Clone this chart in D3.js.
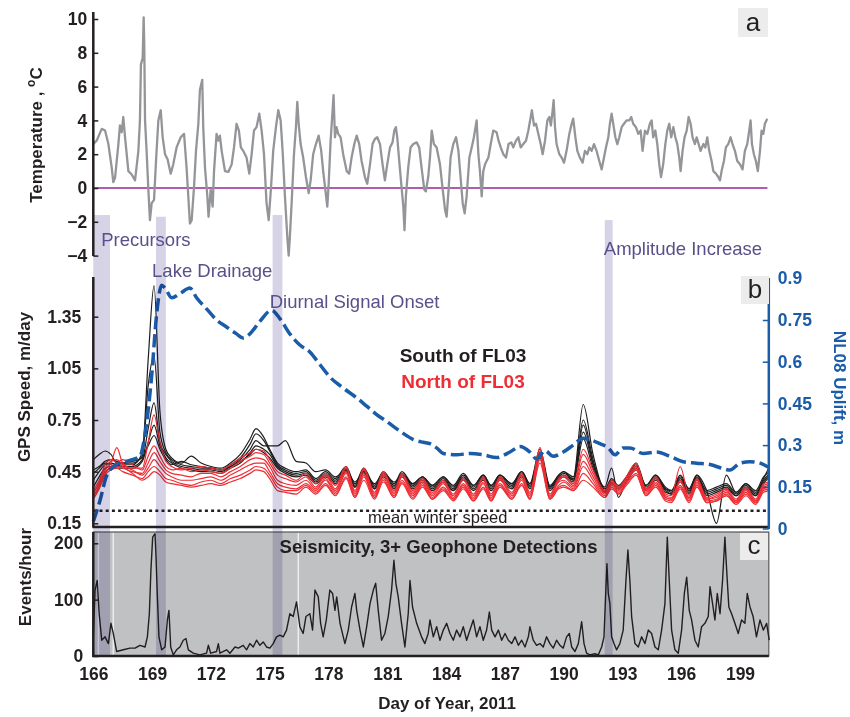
<!DOCTYPE html>
<html>
<head>
<meta charset="utf-8">
<style>
    body { margin: 0; background: #fff; }
    svg { display: block; font-family: "Liberation Sans", Arial, Helvetica, sans-serif; }
    .tick text { font-size: 17.5px; font-weight: bold; fill: #231f20; }
    .tick line { stroke: #231f20; stroke-width: 1.5; }
    .domain { display: none; }
    .right .tick text { fill: #1b5ca9; }
    .right .tick line { stroke: #1b5ca9; }
    .axis-title { font-size: 17px; font-weight: bold; fill: #231f20; }
    .event-label { font-size: 18.5px; fill: #57508a; }
    .panel-tag { font-size: 26px; fill: #231f20; }
</style>
</head>
<body>
<svg width="850" height="717"></svg>

<script src="https://d3js.org/d3.v7.min.js"></script>
<script>
    // ---- data ----
    const dayTicks = [166, 169, 172, 175, 178, 181, 184, 187, 190, 193, 196, 199]
    const tempTicks = [-4, -2, 0, 2, 4, 6, 8, 10]
    const speedTicks = [0.15, 0.45, 0.75, 1.05, 1.35]
    const upliftTicks = [0, 0.15, 0.3, 0.45, 0.6, 0.75, 0.9]
    const eventTicks = [0, 100, 200]

    // panel a: air temperature, deg C
    const tempDays = [
        166.00,166.17,166.43,166.60,166.77,166.94,167.02,167.11,167.28,167.36,
        167.45,167.53,167.62,167.79,167.96,168.13,168.30,168.38,168.43,168.52,
        168.57,168.60,168.64,168.72,168.81,168.89,168.98,169.10,169.20,169.32,
        169.44,169.54,169.66,169.79,169.95,170.08,170.25,170.46,170.63,170.76,
        170.93,171.02,171.14,171.24,171.36,171.44,171.56,171.61,171.70,171.82,
        171.88,171.99,172.09,172.16,172.29,172.38,172.46,172.55,172.72,172.89,
        173.06,173.18,173.31,173.43,173.53,173.65,173.82,173.96,174.08,174.20,
        174.33,174.47,174.59,174.71,174.84,174.95,175.07,175.18,175.32,175.44,
        175.56,175.66,175.78,175.90,175.97,176.03,176.12,176.24,176.34,176.41,
        176.48,176.58,176.71,176.85,176.99,177.09,177.22,177.36,177.50,177.63,
        177.73,177.84,177.94,178.01,178.11,178.21,178.26,178.33,178.41,178.50,
        178.62,178.75,178.93,179.06,179.18,179.32,179.44,179.57,179.69,179.86,
        179.98,180.12,180.25,180.37,180.49,180.63,180.76,180.88,181.00,181.14,
        181.27,181.36,181.44,181.51,181.61,181.73,181.82,181.88,181.95,182.07,
        182.19,182.33,182.50,182.63,182.75,182.89,182.97,183.09,
        183.18,183.27,183.38,183.52,183.69,183.83,183.95,184.03,184.13,184.23,
        184.37,184.51,184.63,184.74,184.85,184.95,185.05,185.19,185.31,185.42,
        185.56,185.65,185.73,185.82,185.90,185.99,186.16,186.28,186.41,186.58,
        186.68,186.79,186.92,187.06,187.19,187.33,187.43,187.57,187.69,187.81,
        187.94,188.08,188.20,188.32,188.38,188.49,188.59,188.71,188.83,188.93,
        189.05,189.17,189.27,189.35,189.44,189.49,189.56,189.64,189.78,189.90,
        190.02,190.15,190.29,190.41,190.49,190.60,190.70,190.83,190.97,191.09,
        191.21,191.31,191.43,191.55,191.68,191.82,191.94,192.06,192.16,192.28,
        192.36,192.45,192.53,192.64,192.74,192.84,192.96,193.08,193.21,193.35,
        193.45,193.55,193.69,193.81,193.93,194.03,194.15,194.27,194.40,194.49,
        194.57,194.68,194.78,194.88,194.97,195.08,195.19,195.29,195.39,195.49,
        195.60,195.70,195.80,195.90,195.97,196.07,196.17,196.28,196.38,196.48,
        196.58,196.70,196.79,196.89,196.99,197.13,197.23,197.33,197.43,197.55,
        197.64,197.77,197.89,197.98,198.06,198.18,198.28,198.40,198.52,198.62,
        198.74,198.86,199.00,199.13,199.25,199.37,199.47,199.54,199.61,199.71,
        199.81,199.91,200.02,200.10,200.19,200.27,200.39
    ]
    const tempValues = [
        2.6,2.8,3.5,3.4,2.6,1.2,0.35,0.6,2.6,3.7,
        3.3,4.2,3.0,1.0,0.8,0.45,2.2,4.0,7.3,7.7,
        10.1,8.5,4.0,2.2,-0.1,-1.9,-0.9,-0.7,1.6,4.0,
        4.6,3.0,2.0,1.7,0.85,1.4,2.4,3.0,3.2,1.2,
        -2.1,-1.9,0.05,2.2,3.8,5.8,6.4,3.6,1.2,-0.5,
        -1.7,-0.1,-1.1,1.0,3.2,2.8,3.1,2.2,1.0,0.95,
        1.4,2.4,3.8,3.4,2.4,2.2,1.8,0.85,2.0,3.4,
        3.6,4.4,3.4,2.0,-0.9,-1.9,0.05,2.2,3.6,4.6,
        4.0,2.2,-0.5,-2.9,-4.0,-2.9,-0.9,2.0,3.6,5.1,
        3.8,2.6,1.8,0.65,-0.3,0.45,2.0,2.6,3.1,2.2,
        1.0,-0.1,-1.1,0.25,2.8,4.6,5.5,3.0,3.6,3.2,
        3.0,2.0,1.0,0.85,1.8,2.6,3.1,2.6,1.6,0.65,
        0.25,1.4,2.6,2.9,3.0,2.6,1.4,0.45,1.4,2.4,
        2.7,3.4,3.6,3.0,1.6,0.05,-1.1,-2.5,-0.5,1.2,
        2.4,2.6,2.7,2.4,1.2,-0.1,-0.2,0.65,
        1.8,3.4,2.6,2.4,1.4,-0.1,-1.3,-1.7,-0.1,1.8,
        2.6,3.0,2.2,0.65,-0.9,-1.5,-0.5,1.8,2.4,3.0,
        4.0,2.0,1.0,-0.5,1.0,1.4,1.8,2.6,3.4,3.3,
        2.8,2.4,2.0,1.8,2.6,2.7,2.4,2.8,3.0,2.4,
        2.6,2.8,3.4,4.2,4.6,3.7,3.8,3.2,2.6,2.0,
        2.8,4.0,4.2,3.7,4.6,5.2,3.6,2.6,2.0,1.8,
        1.5,2.2,3.2,3.8,4.1,3.0,2.2,1.8,1.5,2.2,
        2.0,2.4,2.2,2.6,2.2,1.6,1.1,1.8,2.4,3.0,
        3.8,4.4,3.8,3.0,2.6,3.0,3.6,3.8,4.0,4.0,
        4.2,3.8,3.6,3.2,3.4,2.2,3.4,3.2,3.8,4.0,
        3.0,3.4,2.6,1.4,0.65,1.4,2.6,3.4,3.8,3.0,
        3.6,3.0,2.6,1.8,1.0,2.2,3.0,3.4,4.2,3.8,
        3.0,2.6,3.0,2.6,2.2,2.6,2.4,3.0,2.2,1.6,
        1.0,0.85,0.65,0.45,1.0,1.6,2.4,2.6,3.0,2.6,
        2.2,1.6,1.4,1.1,2.2,2.6,3.4,4.0,2.6,2.0,
        1.6,1.0,2.2,3.4,3.2,3.8,4.1
    ]

    // panel b: GPS speed (m/day), one row per station
    const gpsDays = [
        166.0,166.3,166.6,166.9,167.2,167.5,168.0,168.5,168.8,169.1,
        169.4,169.7,170.0,170.5,171.0,171.5,172.0,172.5,173.0,173.5,
        174.0,174.3,174.7,175.0,175.4,175.8,176.35,176.85,177.35,177.85,
        178.35,178.9,179.35,179.8,180.35,180.8,181.35,181.75,182.3,182.8,
        183.3,183.86,184.37,184.88,185.4,185.9,186.3,186.75,187.35,187.86,
        188.28,188.79,189.3,189.75,190.0,190.5,191.0,191.5,192.1,192.45,
        192.8,193.2,193.7,194.2,194.7,195.2,195.5,195.95,196.4,196.8,
        197.3,197.8,198.3,198.8,199.3,199.8,200.2,200.5
    ]
    const southStations = [
        [0.44,0.47,0.50,0.49,0.48,0.49,0.49,0.56,1.10,1.53, 0.80,0.58,0.53,0.50,0.54,0.50,0.48,0.47,0.50,0.55,
         0.64,0.70,0.65,0.58,0.50,0.47,0.45,0.46,0.41,0.45, 0.41,0.48,0.38,0.47,0.37,0.45,0.38,0.45,0.38,0.42,
         0.37,0.42,0.36,0.43,0.37,0.43,0.37,0.43,0.38,0.45, 0.38,0.58,0.37,0.43,0.45,0.42,0.84,0.55,0.35,0.41,
         0.37,0.42,0.50,0.37,0.43,0.36,0.34,0.42,0.35,0.43, 0.34,0.36,0.38,0.33,0.38,0.33,0.41,0.48],
        [0.52,0.55,0.57,0.55,0.50,0.50,0.50,0.54,0.95,1.12, 0.68,0.56,0.52,0.49,0.48,0.47,0.47,0.46,0.49,0.53,
         0.61,0.67,0.63,0.57,0.49,0.46,0.44,0.45,0.40,0.44, 0.40,0.47,0.37,0.46,0.36,0.44,0.37,0.44,0.37,0.41,
         0.36,0.41,0.35,0.42,0.36,0.42,0.36,0.42,0.37,0.44, 0.37,0.56,0.36,0.42,0.44,0.41,0.75,0.52,0.34,0.40,
         0.36,0.41,0.49,0.36,0.42,0.35,0.33,0.41,0.34,0.42, 0.33,0.35,0.37,0.32,0.37,0.32,0.40,0.44],
        [0.40,0.45,0.49,0.50,0.49,0.48,0.48,0.52,0.70,0.85, 0.62,0.55,0.51,0.48,0.47,0.46,0.46,0.45,0.48,0.52,
         0.58,0.63,0.60,0.60,0.60,0.63,0.51,0.50,0.45,0.46, 0.42,0.46,0.39,0.45,0.38,0.44,0.39,0.43,0.38,0.42,
         0.37,0.42,0.37,0.44,0.37,0.43,0.37,0.43,0.38,0.45, 0.38,0.55,0.36,0.43,0.45,0.40,0.72,0.50,0.36,0.47,
         0.30,0.40,0.48,0.37,0.43,0.35,0.34,0.43,0.35,0.43, 0.34,0.15,0.43,0.33,0.38,0.34,0.42,0.45],
        [0.36,0.42,0.47,0.48,0.47,0.47,0.47,0.51,0.62,0.72, 0.60,0.53,0.50,0.47,0.46,0.45,0.45,0.44,0.47,0.50,
         0.56,0.60,0.58,0.55,0.48,0.45,0.43,0.44,0.39,0.43, 0.39,0.46,0.36,0.45,0.35,0.43,0.36,0.43,0.36,0.40,
         0.35,0.40,0.34,0.41,0.35,0.41,0.35,0.41,0.36,0.43, 0.36,0.55,0.35,0.41,0.43,0.40,0.68,0.49,0.33,0.39,
         0.35,0.40,0.47,0.35,0.41,0.34,0.32,0.40,0.33,0.41, 0.32,0.34,0.36,0.31,0.36,0.31,0.39,0.43],
        [0.46,0.48,0.51,0.52,0.51,0.50,0.51,0.53,0.60,0.66, 0.58,0.52,0.49,0.51,0.49,0.48,0.47,0.46,0.48,0.51,
         0.55,0.58,0.56,0.53,0.47,0.44,0.42,0.43,0.38,0.42, 0.38,0.45,0.36,0.44,0.35,0.42,0.35,0.42,0.35,0.39,
         0.34,0.39,0.34,0.40,0.34,0.40,0.34,0.40,0.35,0.42, 0.35,0.53,0.34,0.40,0.42,0.39,0.64,0.47,0.33,0.38,
         0.35,0.39,0.46,0.34,0.40,0.33,0.32,0.39,0.32,0.40, 0.31,0.33,0.35,0.31,0.35,0.31,0.38,0.42]
    ]
    const northStations = [
        [0.33,0.38,0.46,0.50,0.59,0.50,0.47,0.47,0.62,0.78, 0.62,0.51,0.48,0.46,0.47,0.48,0.47,0.46,0.49,0.53,
         0.56,0.58,0.57,0.52,0.45,0.43,0.40,0.44,0.38,0.44, 0.37,0.48,0.34,0.47,0.33,0.45,0.34,0.44,0.34,0.41,
         0.33,0.40,0.32,0.41,0.32,0.42,0.32,0.42,0.33,0.44, 0.33,0.59,0.32,0.41,0.43,0.38,0.58,0.46,0.34,0.40,
         0.36,0.42,0.50,0.35,0.42,0.32,0.31,0.48,0.31,0.41, 0.30,0.32,0.35,0.29,0.36,0.29,0.38,0.39],
        [0.31,0.36,0.44,0.48,0.50,0.52,0.49,0.46,0.54,0.60, 0.54,0.48,0.46,0.47,0.45,0.46,0.45,0.44,0.47,0.51,
         0.54,0.56,0.55,0.50,0.43,0.41,0.39,0.42,0.36,0.43, 0.35,0.47,0.33,0.46,0.32,0.44,0.33,0.43,0.33,0.40,
         0.32,0.39,0.31,0.40,0.31,0.41,0.31,0.41,0.32,0.43, 0.32,0.57,0.31,0.40,0.42,0.37,0.55,0.44,0.33,0.39,
         0.35,0.41,0.48,0.34,0.41,0.31,0.30,0.40,0.30,0.40, 0.29,0.31,0.34,0.28,0.35,0.28,0.37,0.38],
        [0.30,0.37,0.45,0.47,0.48,0.47,0.45,0.44,0.50,0.56, 0.51,0.46,0.44,0.43,0.42,0.44,0.44,0.42,0.45,0.48,
         0.52,0.53,0.52,0.48,0.40,0.38,0.37,0.40,0.35,0.41, 0.34,0.45,0.32,0.44,0.31,0.43,0.32,0.42,0.32,0.39,
         0.31,0.38,0.30,0.38,0.30,0.39,0.30,0.40,0.31,0.41, 0.31,0.55,0.30,0.39,0.40,0.36,0.51,0.42,0.32,0.38,
         0.34,0.40,0.47,0.33,0.39,0.30,0.29,0.39,0.30,0.39, 0.29,0.30,0.33,0.28,0.34,0.28,0.36,0.37],
        [0.34,0.40,0.47,0.51,0.52,0.49,0.46,0.43,0.47,0.52, 0.48,0.44,0.42,0.40,0.40,0.41,0.42,0.40,0.43,0.46,
         0.49,0.50,0.50,0.45,0.38,0.36,0.35,0.38,0.34,0.40, 0.33,0.44,0.31,0.43,0.30,0.41,0.31,0.40,0.31,0.38,
         0.30,0.36,0.29,0.37,0.29,0.38,0.29,0.38,0.30,0.40, 0.30,0.54,0.30,0.37,0.39,0.35,0.48,0.40,0.31,0.37,
         0.33,0.39,0.46,0.32,0.38,0.30,0.29,0.37,0.29,0.38, 0.28,0.29,0.32,0.27,0.33,0.27,0.35,0.36],
        [0.29,0.35,0.43,0.46,0.47,0.45,0.43,0.41,0.45,0.48, 0.45,0.41,0.40,0.38,0.37,0.39,0.40,0.38,0.41,0.43,
         0.46,0.48,0.47,0.43,0.36,0.34,0.34,0.37,0.33,0.38, 0.32,0.42,0.30,0.42,0.30,0.40,0.30,0.39,0.30,0.37,
         0.29,0.35,0.29,0.36,0.28,0.36,0.28,0.37,0.29,0.38, 0.29,0.52,0.29,0.36,0.37,0.34,0.44,0.38,0.30,0.36,
         0.32,0.38,0.44,0.31,0.37,0.29,0.28,0.36,0.28,0.37, 0.27,0.28,0.31,0.27,0.32,0.27,0.34,0.35],
        [0.32,0.39,0.49,0.52,0.50,0.48,0.44,0.40,0.42,0.45, 0.43,0.39,0.38,0.37,0.36,0.37,0.38,0.37,0.39,0.41,
         0.44,0.46,0.45,0.41,0.34,0.33,0.32,0.36,0.32,0.37, 0.31,0.41,0.30,0.40,0.29,0.39,0.30,0.38,0.29,0.36,
         0.29,0.34,0.28,0.35,0.28,0.35,0.28,0.36,0.29,0.37, 0.29,0.50,0.29,0.35,0.36,0.34,0.40,0.36,0.30,0.35,
         0.32,0.37,0.43,0.31,0.36,0.28,0.27,0.35,0.27,0.36, 0.27,0.28,0.31,0.26,0.31,0.26,0.33,0.34]
    ]
    const meanWinterSpeed = 0.223

    // panel b: NL08 uplift (m), right axis
    const upliftDays = [
        166.0,166.34,166.68,167.19,167.87,168.38,168.64,168.98,169.23,169.49,
        169.66,170.0,170.42,170.93,171.27,171.78,172.29,172.8,173.31,173.65,
        173.99,174.5,175.1,175.52,176.03,176.54,177.05,177.56,178.07,178.76,
        179.44,179.95,180.46,180.97,181.65,182.33,182.84,183.18,183.52,183.86,
        184.54,185.22,185.9,186.58,187.26,187.77,188.28,188.62,189.05,189.47,
        189.98,190.49,191.0,191.34,191.85,192.28,192.62,193.04,193.38,194.06,
        194.74,195.42,196.1,196.79,197.47,198.15,198.49,199.0,199.51,200.02,200.45
    ]
    const upliftValues = [
        0.025,0.10,0.19,0.23,0.245,0.26,0.34,0.55,0.77,0.875,
        0.865,0.83,0.845,0.865,0.83,0.79,0.75,0.725,0.70,0.685,
        0.70,0.745,0.785,0.755,0.70,0.66,0.635,0.59,0.545,0.505,
        0.47,0.44,0.41,0.385,0.35,0.32,0.31,0.305,0.29,0.27,
        0.265,0.27,0.265,0.255,0.275,0.295,0.275,0.25,0.28,0.26,
        0.275,0.30,0.325,0.32,0.305,0.29,0.265,0.29,0.29,0.27,
        0.275,0.26,0.24,0.235,0.23,0.215,0.21,0.235,0.24,0.235,0.22
    ]

    // panel c: seismicity, events/hour
    const seisDays = [
        166.0,166.09,166.2,166.3,166.43,166.6,166.77,166.9,167.02,167.19,
        167.53,167.87,168.13,168.38,168.64,168.76,168.86,168.94,169.03,169.15,
        169.2,169.27,169.35,169.49,169.66,169.78,169.86,169.95,170.08,170.25,
        170.42,170.59,170.73,170.85,171.1,171.44,171.78,171.87,171.99,172.29,
        172.38,172.46,172.8,172.97,173.23,173.4,173.65,173.82,173.99,174.16,
        174.33,174.5,174.67,174.84,175.01,175.18,175.35,175.52,175.69,175.86,
        176.03,176.2,176.37,176.54,176.71,176.85,177.05,177.19,177.31,177.48,
        177.6,177.73,177.89,178.07,178.21,178.33,178.42,178.59,178.84,179.01,
        179.18,179.35,179.44,179.61,179.78,179.95,180.12,180.29,180.41,180.54,
        180.71,180.88,181.05,181.22,181.34,181.44,181.56,181.73,181.9,182.07,
        182.16,182.29,182.5,182.75,182.92,183.09,
        183.18,183.35,183.52,183.69,183.86,184.03,184.2,184.37,184.54,184.71,
        184.88,185.05,185.22,185.39,185.56,185.73,185.9,186.07,186.21,186.33,
        186.5,186.67,186.84,187.01,187.18,187.35,187.52,187.69,187.86,188.03,
        188.2,188.28,188.45,188.62,188.79,188.96,189.13,189.3,189.47,189.64,
        189.81,189.98,190.15,190.29,190.41,190.58,190.75,190.92,191.04,191.17,
        191.34,191.6,191.77,191.94,192.06,192.14,192.21,192.28,192.36,192.45,
        192.57,192.7,192.87,193.04,193.18,193.28,193.38,193.47,193.64,193.81,
        193.98,194.15,194.32,194.49,194.66,194.83,195.0,195.17,195.29,195.39,
        195.51,195.68,195.85,196.02,196.16,196.28,196.41,196.53,196.7,196.87,
        197.04,197.21,197.38,197.47,197.6,197.72,197.84,197.98,198.11,198.23,
        198.32,198.43,198.57,198.74,198.91,199.08,199.25,199.37,199.51,199.67,
        199.84,200.02,200.19,200.36,200.49
    ]
    const seisValues = [
        34,117,134,75,28,34,22,58,40,8,
        11,14,14,19,16,34,75,152,211,217,
        176,105,34,11,16,64,81,16,2,11,
        16,28,31,11,5,2,5,19,5,8,
        22,5,11,5,16,14,19,11,22,16,
        28,19,25,16,14,22,34,37,34,46,
        75,70,96,52,40,70,75,46,117,105,
        58,34,64,117,111,81,105,58,22,46,
        87,111,81,46,16,52,93,117,129,81,
        28,40,70,117,170,129,105,58,16,75,
        134,87,58,34,22,40,
        64,34,52,28,46,58,40,28,46,34,
        52,28,46,64,34,52,28,46,78,46,
        34,46,28,40,28,22,34,19,28,16,
        34,52,28,19,22,16,34,22,14,28,
        19,14,34,40,16,8,22,61,22,5,
        2,4,2,16,34,105,164,111,93,34,
        22,11,22,46,134,188,134,70,22,16,
        34,22,46,40,16,11,46,93,211,134,
        46,11,5,46,111,140,81,64,28,16,
        52,58,70,123,93,64,111,75,134,211,
        152,87,75,58,40,64,58,111,87,70,
        34,64,46,58,28
    ]
    const gapDays = [166.26, 167.02, 176.46]

    // shaded events
    const bandLabels = ["Precursors", "Lake Drainage", "Diurnal Signal Onset", "Amplitude Increase"]
    const bandStarts = [166.0, 169.2, 175.15, 192.1]
    const bandEnds = [166.85, 169.7, 175.65, 192.5]
    const bandTops = [-1.6, -1.7, -1.6, -1.9]   // in temperature units (panel a scale)
    const labelDays = [166.4, 169.0, 175.0, 192.05]
    const labelY = [246, 277, 308, 255]

    // ---- layout ----
    let svg = d3.select("svg")
    let dayMax = 200.47

    let x = d3.scaleLinear().domain([166, 199]).range([93.3, 740])
    let yTemp = d3.scaleLinear().domain([-4, 10]).range([255.6, 19])
    let ySpeed = d3.scaleLinear().domain([0.15, 1.35]).range([523.3, 316.7])
    let yUplift = d3.scaleLinear().domain([0, 0.9]).range([528.5, 278.3])
    let yEvents = d3.scaleLinear().domain([0, 200]).range([656, 543.3])

    let left = x(166), right = x(dayMax)
    let ink = "#231f20"
    let blue = "#1b5ca9"

    function pathFor(days, values, yScale, curve) {
        return d3.line()
            .x((d, i) => x(days[i]))
            .y(d => yScale(d))
            .curve(curve || d3.curveLinear)(values)
    }

    // ---- panel c background ----
    svg.append("rect")
        .attr("x", left).attr("y", 532)
        .attr("width", right - left).attr("height", 656 - 532)
        .attr("fill", "#c0c1c3")
        .attr("stroke", "#58595b").attr("stroke-width", 1.2)

    svg.append("g").selectAll("line")
        .data(gapDays)
        .join("line")
        .attr("x1", d => x(d)).attr("x2", d => x(d))
        .attr("y1", 533).attr("y2", 655)
        .attr("stroke", "#fff").attr("stroke-opacity", 0.7).attr("stroke-width", 1.5)

    // ---- panel a: temperature ----
    svg.append("line")
        .attr("x1", left).attr("x2", x(200.4))
        .attr("y1", yTemp(0)).attr("y2", yTemp(0))
        .attr("stroke", "#b35bae").attr("stroke-width", 2)

    svg.append("path")
        .attr("d", pathFor(tempDays, tempValues, yTemp))
        .attr("fill", "none")
        .attr("stroke", "#939598")
        .attr("stroke-width", 2.3)
        .attr("stroke-linejoin", "round")

    // ---- panel b: GPS speeds + uplift ----
    svg.append("line")
        .attr("x1", left).attr("x2", right)
        .attr("y1", ySpeed(meanWinterSpeed)).attr("y2", ySpeed(meanWinterSpeed))
        .attr("stroke", ink).attr("stroke-width", 2.5)
        .attr("stroke-dasharray", "3,3.2")

    svg.append("g").selectAll("path")
        .data(southStations)
        .join("path")
        .attr("d", d => pathFor(gpsDays, d, ySpeed, d3.curveMonotoneX))
        .attr("fill", "none")
        .attr("stroke", "#1e1e1e")
        .attr("stroke-width", 1.2)

    svg.append("g").selectAll("path")
        .data(northStations)
        .join("path")
        .attr("d", d => pathFor(gpsDays, d, ySpeed, d3.curveMonotoneX))
        .attr("fill", "none")
        .attr("stroke", "#ee2d34")
        .attr("stroke-width", 1.2)

    svg.append("path")
        .attr("d", pathFor(upliftDays, upliftValues, yUplift, d3.curveMonotoneX))
        .attr("fill", "none")
        .attr("stroke", blue)
        .attr("stroke-width", 3.5)
        .attr("stroke-dasharray", "13,5")

    // ---- panel c: seismicity ----
    svg.append("path")
        .attr("d", pathFor(seisDays, seisValues, yEvents))
        .attr("fill", "none")
        .attr("stroke", ink)
        .attr("stroke-width", 1.4)
        .attr("stroke-linejoin", "round")

    // ---- event bands (drawn over everything) ----
    svg.append("g").selectAll("rect")
        .data(bandStarts)
        .join("rect")
        .attr("x", d => x(d))
        .attr("width", (d, i) => x(bandEnds[i]) - x(d))
        .attr("y", (d, i) => yTemp(bandTops[i]))
        .attr("height", (d, i) => 656 - yTemp(bandTops[i]))
        .attr("fill", "#d6d3e6")
        .style("mix-blend-mode", "multiply")

    svg.append("g").selectAll("text")
        .data(bandLabels)
        .join("text")
        .attr("class", "event-label")
        .attr("x", (d, i) => x(labelDays[i]))
        .attr("y", (d, i) => labelY[i])
        .text(d => d)

    // ---- axes ----
    svg.append("g")
        .attr("transform", `translate(${left},0)`)
        .call(d3.axisLeft(yTemp).tickValues(tempTicks).tickSizeInner(-5).tickSizeOuter(0).tickPadding(6))

    svg.append("g")
        .attr("transform", `translate(${left},0)`)
        .call(d3.axisLeft(ySpeed).tickValues(speedTicks).tickFormat(d3.format(".2f"))
            .tickSizeInner(-5).tickSizeOuter(0).tickPadding(12))

    svg.append("g")
        .attr("class", "right")
        .attr("transform", `translate(${right},0)`)
        .call(d3.axisRight(yUplift).tickValues(upliftTicks).tickFormat(d => String(+d.toFixed(2)))
            .tickSizeInner(-6).tickSizeOuter(0).tickPadding(9))

    svg.append("g")
        .attr("transform", `translate(${left},0)`)
        .call(d3.axisLeft(yEvents).tickValues(eventTicks).tickSizeInner(-5).tickSizeOuter(0).tickPadding(10))

    svg.append("g")
        .attr("transform", "translate(0,656)")
        .call(d3.axisBottom(x).tickValues(dayTicks).tickFormat(d3.format("d")).tickSize(0).tickPadding(12))

    // axis lines
    let axisLines = [
        [left, 12, left, 256, ink],
        [left, 277, left, 527, ink],
        [left - 1, 527, right + 1, 527, ink],
        [right, 278, right, 529, blue],
        [left, 532, left, 657, ink],
        [left - 1, 656, right, 656, ink]
    ]
    svg.append("g").selectAll("line")
        .data(axisLines)
        .join("line")
        .attr("x1", d => d[0]).attr("y1", d => d[1])
        .attr("x2", d => d[2]).attr("y2", d => d[3])
        .attr("stroke", d => d[4])
        .attr("stroke-width", 2.5)

    // ---- titles ----
    let tTemp = svg.append("text")
        .attr("class", "axis-title")
        .attr("transform", "translate(42,135) rotate(-90)")
        .attr("text-anchor", "middle")
    tTemp.append("tspan").text("Temperature , ")
    tTemp.append("tspan").attr("dy", -7).style("font-size", "12px").text("o")
    tTemp.append("tspan").attr("dy", 7).text("C")

    svg.append("text")
        .attr("class", "axis-title")
        .attr("transform", "translate(30,387) rotate(-90)")
        .attr("text-anchor", "middle")
        .text("GPS Speed, m/day")

    svg.append("text")
        .attr("class", "axis-title")
        .attr("transform", "translate(31,577) rotate(-90)")
        .attr("text-anchor", "middle")
        .text("Events/hour")

    svg.append("text")
        .attr("class", "axis-title")
        .attr("transform", "translate(834,388) rotate(90)")
        .attr("text-anchor", "middle")
        .style("fill", blue)
        .text("NL08 Uplift, m")

    svg.append("text")
        .attr("class", "axis-title")
        .attr("x", 447).attr("y", 709)
        .attr("text-anchor", "middle")
        .text("Day of Year, 2011")

    svg.append("text")
        .attr("x", 463).attr("y", 362)
        .attr("text-anchor", "middle")
        .style("font-size", "19px").style("font-weight", "bold").style("fill", ink)
        .text("South of FL03")

    svg.append("text")
        .attr("x", 463).attr("y", 388)
        .attr("text-anchor", "middle")
        .style("font-size", "19px").style("font-weight", "bold").style("fill", "#ee2d34")
        .text("North of FL03")

    svg.append("text")
        .attr("x", 368).attr("y", 523)
        .style("font-size", "16.5px").style("fill", ink)
        .text("mean winter speed")

    svg.append("text")
        .attr("x", 438.5).attr("y", 553)
        .attr("text-anchor", "middle")
        .style("font-size", "18.5px").style("font-weight", "bold").style("fill", ink)
        .text("Seismicity, 3+ Geophone Detections")

    // panel tags
    let tags = [
        { t: "a", x: 738, y: 8, w: 30, h: 29 },
        { t: "b", x: 741, y: 276, w: 28, h: 28 },
        { t: "c", x: 740, y: 533, w: 28, h: 27 }
    ]
    let tg = svg.append("g").selectAll("g")
        .data(tags)
        .join("g")
    tg.append("rect")
        .attr("x", d => d.x).attr("y", d => d.y)
        .attr("width", d => d.w).attr("height", d => d.h)
        .attr("fill", "#ececec")
    tg.append("text")
        .attr("class", "panel-tag")
        .attr("x", d => d.x + d.w / 2)
        .attr("y", d => d.y + d.h - 6)
        .attr("text-anchor", "middle")
        .text(d => d.t)
</script>
</body>
</html>
